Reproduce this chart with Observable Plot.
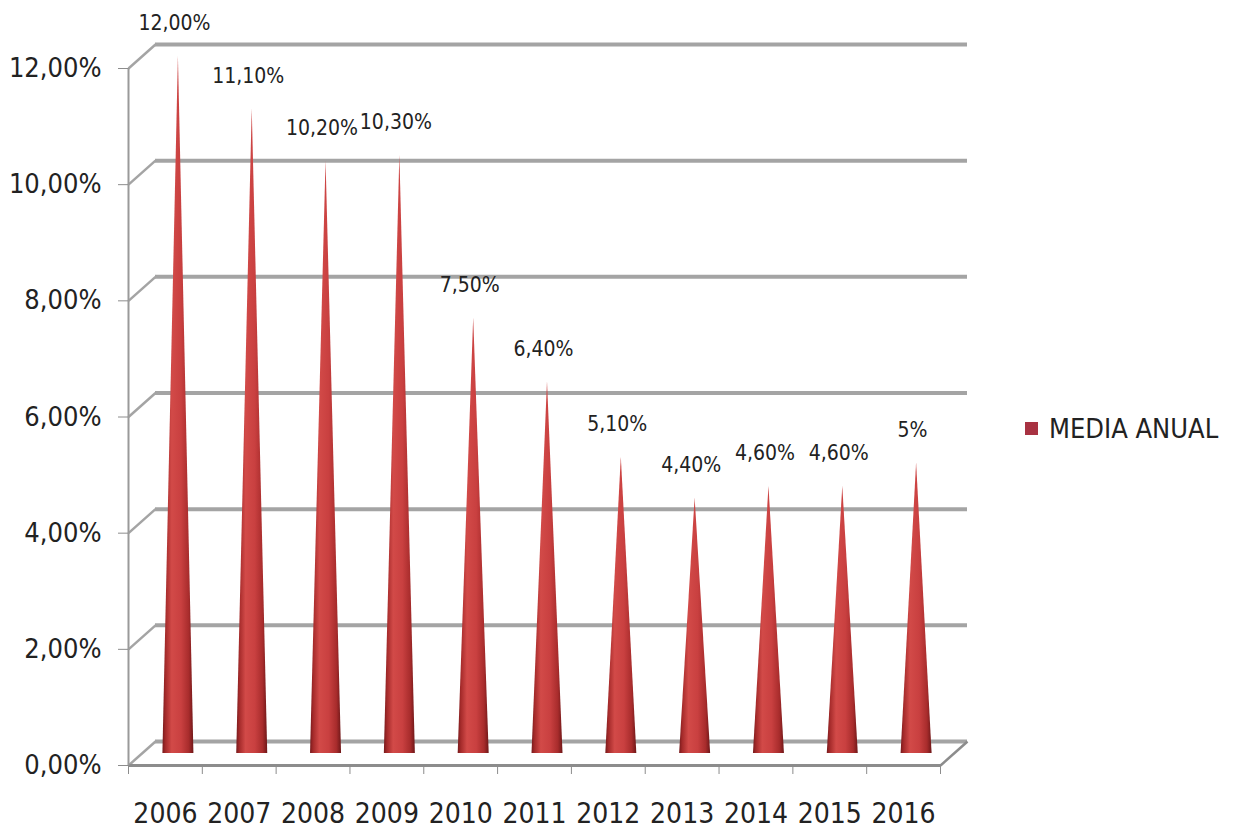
<!DOCTYPE html>
<html>
<head>
<meta charset="utf-8">
<script src="https://cdn.jsdelivr.net/npm/d3@7"></script>
<script src="https://cdn.jsdelivr.net/npm/@observablehq/plot@0.6"></script>
<style>
  body { margin: 0; background: #fff; }
  #chart { position: relative; width: 1234px; height: 834px; }
  .legend { position: absolute; left: 1025px; top: 413px; display: flex; align-items: center; white-space: nowrap;
            font: 27px "DejaVu Sans Condensed", "DejaVu Sans", sans-serif; font-stretch: condensed; color: #222; }
  .legend .swatch { width: 13px; height: 13px; background: #a83242; margin-right: 11px; flex: none; }
</style>
</head>
<body>
<div id="chart"></div>
<script>
// Annual average rate, by year
const years = [2006, 2007, 2008, 2009, 2010, 2011, 2012, 2013, 2014, 2015, 2016];
const rates = [12, 11.1, 10.2, 10.3, 7.5, 6.4, 5.1, 4.4, 4.6, 4.6, 5];
const rateLabels = ["12,00%", "11,10%", "10,20%", "10,30%", "7,50%", "6,40%", "5,10%", "4,40%", "4,60%", "4,60%", "5%"];
const yTicks = [0, 2, 4, 6, 8, 10, 12];
const seriesName = "MEDIA ANUAL";

// Layout
const W = 1234, H = 834;
const mL = 128, mR = 294, mT = 68, mB = 69;
const xDomain = [years[0] - 0.5, years[years.length - 1] + 0.5];
const yDomain = [0, 12];
const depth = {x: 27, y: 24};               // back-wall offset in pixels
const pxPerYear = (W - mL - mR) / (xDomain[1] - xDomain[0]);
const pxPerPct = (H - mT - mB) / (yDomain[1] - yDomain[0]);
const depthX = depth.x / pxPerYear, depthY = depth.y / pxPerPct;
const coneHalf = 0.21;                      // half base width of a cone, in years
const font = '"DejaVu Sans Condensed", "DejaVu Sans", sans-serif';

const rows = years.map((year, i) => ({year, rate: rates[i], label: rateLabels[i]}));
// each cone is a triangle: base corners on the floor, tip at the value
const cones = rows.flatMap(d => [
  {year: d.year, x: d.year - coneHalf, y: 0},
  {year: d.year, x: d.year, y: d.rate},
  {year: d.year, x: d.year + coneHalf, y: 0}
]);
const boundaries = d3.range(xDomain[0], xDomain[1] + 0.01, 1);
const fmtPct = d => d.toFixed(2).replace(".", ",") + "%";

const grid = "#a4a4a4";

const plot = Plot.plot({
  width: W, height: H,
  marginLeft: mL, marginRight: mR, marginTop: mT, marginBottom: mB,
  style: {fontFamily: font, fontStretch: "condensed", background: "white", overflow: "visible", color: "#222"},
  x: {domain: xDomain},
  y: {domain: yDomain},
  marks: [
    // back wall gridlines
    Plot.ruleY(yTicks, {dx: depth.x, dy: -depth.y, stroke: grid, strokeWidth: 4}),
    // wall-to-axis connectors
    Plot.link(yTicks, {x1: () => xDomain[0], y1: d => d, x2: () => xDomain[0] + depthX, y2: d => d + depthY,
                       stroke: grid, strokeWidth: 2.5}),
    // floor: right edge and front edge
    Plot.link([0], {x1: () => xDomain[1], y1: 0, x2: () => xDomain[1] + depthX, y2: () => depthY,
                    stroke: "#8c8c8c", strokeWidth: 2.5}),
    Plot.ruleY([0], {stroke: "#8c8c8c", strokeWidth: 3}),
    // front vertical axis
    Plot.ruleX([xDomain[0]], {y1: yDomain[0], y2: yDomain[1], stroke: "#9a9a9a", strokeWidth: 2}),
    // cones
    Plot.areaY(cones, {x: "x", y: "y", z: "year", fill: "url(#coneShade)", dx: 13, dy: -12}),
    // value labels
    Plot.text(rows, {x: "year", y: "rate", text: "label", dx: 9, dy: -45, fontSize: 21, fill: "#222"}),
    // y axis
    Plot.axisY({ticks: yTicks, tickFormat: fmtPct, tickSize: 10, tickPadding: 17, fontSize: 27,
                stroke: "#8c8c8c", fill: "#222", label: null}),
    // x tick marks on the front floor edge
    Plot.axisX({ticks: boundaries, tickFormat: () => "", tickSize: 9, stroke: "#8c8c8c", label: null}),
    // x category labels
    Plot.axisX({ticks: years, tickFormat: d => String(d), tickSize: 0, tickPadding: 38, fontSize: 28,
                fill: "#222", label: null})
  ]
});

// horizontal shading for the cones
const defs = d3.select(plot).insert("defs", ":first-child");
const grad = defs.append("linearGradient").attr("id", "coneShade")
  .attr("x1", 0).attr("x2", 1).attr("y1", 0).attr("y2", 0);
[[0, "#761a1c"], [0.1, "#a42a2a"], [0.3, "#d24a48"], [0.6, "#c94040"], [0.85, "#a82c2c"], [1, "#6e1718"]]
  .forEach(([o, c]) => grad.append("stop").attr("offset", o).attr("stop-color", c));

const chart = document.getElementById("chart");
chart.appendChild(plot);

const legend = document.createElement("div");
legend.className = "legend";
legend.innerHTML = `<span class="swatch"></span><span></span>`;
legend.lastChild.textContent = seriesName;
chart.appendChild(legend);
</script>
</body>
</html>
